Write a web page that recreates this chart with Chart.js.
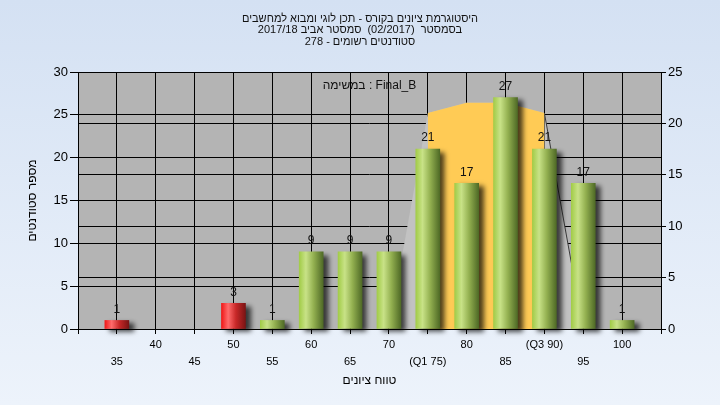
<!DOCTYPE html>
<html><head><meta charset="utf-8">
<script src="https://cdn.jsdelivr.net/npm/chart.js@4.4.1/dist/chart.umd.min.js"></script>
<style>html,body{margin:0;padding:0;background:#E2EBF7}#wrap{width:720px;height:405px}</style>
</head><body><div id="wrap"><canvas id="c" width="720" height="405"></canvas></div>
<script>
// ---- data ----
const titleLines = ['היסטוגרמת ציונים בקורס - תכן לוגי ומבוא למחשבים', 'בסמסטר  (02/2017)  סמסטר אביב 2017/18', 'סטודנטים רשומים - 278'];
const taskLabel = 'במשימה : Final_B';
const yTitle = 'מספר סטודנטים';
const xTitle = 'טווח ציונים';
const categories = [35, 40, 45, 50, 55, 60, 65, 70, 75, 80, 85, 90, 95, 100];
const xTickLabels = ['35', '40', '45', '50', '55', '60', '65', '70', '(Q1 75)', '80', '85', '(Q3 90)', '95', '100'];
const studentCounts = [1, 0, 0, 3, 1, 9, 9, 9, 21, 17, 27, 21, 17, 1];
const curveGrades = [70, 75, 80, 85, 90, 95];
const curveValues = [0, 21, 22, 22, 21, 0];
const iqrGrades = [75, 80, 85, 90];
const iqrValues = [21, 22, 22, 21];
const leftRange = { min: 0, max: 30, step: 5 };
const rightRange = { min: 0, max: 25, step: 5 };
const gradeRange = { min: 30, max: 105, step: 5 };
const passGrade = 55;

// ---- styling ----
const FONT = "'Liberation Sans', 'DejaVu Sans', Arial, sans-serif";
Chart.defaults.font.family = FONT;
Chart.defaults.color = '#000';

function barFill(c) {
  const fallback = '#9BC34A';
  if (c.type !== 'data' || !c.raw) return fallback;
  if (!c.raw.y) return 'transparent';
  const chart = c.chart;
  const sx = chart.scales && chart.scales.x;
  if (!sx) return fallback;
  const x = sx.getPixelForValue(c.raw.x);
  if (!isFinite(x)) return c.raw.x < passGrade ? '#D02020' : fallback;
  const g = chart.ctx.createLinearGradient(x - 12, 0, x + 12, 0);
  if (c.raw.x < passGrade) {
    g.addColorStop(0, '#F01818');
    g.addColorStop(0.28, '#FF6B6B');
    g.addColorStop(0.6, '#C82828');
    g.addColorStop(1, '#7A1414');
  } else {
    g.addColorStop(0, '#A2CC48');
    g.addColorStop(0.28, '#C8E287');
    g.addColorStop(0.6, '#93B050');
    g.addColorStop(1, '#4F6A26');
  }
  return g;
}

const bgPlugin = {
  id: 'bg',
  beforeDraw(chart) {
    const { ctx, width, height, chartArea: a } = chart;
    ctx.save();
    const g = ctx.createLinearGradient(0, 0, 0, height);
    g.addColorStop(0, '#D4E1F3');
    g.addColorStop(1, '#EDF3FB');
    ctx.fillStyle = g;
    ctx.fillRect(0, 0, width, height);
    ctx.fillStyle = '#B4B4B4';
    ctx.fillRect(a.left, a.top, a.right - a.left, a.bottom - a.top);
    ctx.restore();
  }
};

const shadowPlugin = {
  id: 'barShadow',
  beforeDatasetDraw(chart, args) {
    if (args.meta.type !== 'bar') return;
    const ctx = chart.ctx;
    ctx.save();
    ctx.shadowColor = 'rgba(0,0,0,0.7)';
    ctx.shadowBlur = 5;
    ctx.shadowOffsetX = 5;
    ctx.shadowOffsetY = 3;
  },
  afterDatasetDraw(chart, args) {
    if (args.meta.type !== 'bar') return;
    chart.ctx.restore();
  }
};

const labelPlugin = {
  id: 'labels',
  afterDatasetsDraw(chart) {
    const ctx = chart.ctx;
    const a = chart.chartArea;
    ctx.save();
    ctx.fillStyle = '#111';
    ctx.textAlign = 'center';
    ctx.textBaseline = 'middle';
    ctx.font = '12px ' + FONT;
    chart.getSortedVisibleDatasetMetas().forEach(meta => {
      if (meta.type !== 'bar') return;
      meta.data.forEach((el, i) => {
        const v = studentCounts[i];
        if (v > 0) ctx.fillText(String(v), el.x, el.y - 11);
      });
    });
    ctx.fillText(taskLabel, (a.left + a.right) / 2, a.top + 14);
    ctx.restore();
  }
};

new Chart(document.getElementById('c'), {
  data: {
    datasets: [
      {
        type: 'bar',
        data: categories.map((g, i) => ({ x: g, y: studentCounts[i] })),
        xAxisID: 'x', yAxisID: 'y',
        barThickness: 24,
        backgroundColor: barFill,
        borderWidth: 0,
        order: 0,
        clip: false
      },
      {
        type: 'line',
        data: iqrGrades.map((g, i) => ({ x: g, y: iqrValues[i] })),
        xAxisID: 'x', yAxisID: 'y2',
        fill: 'origin',
        backgroundColor: '#FFCB55',
        borderWidth: 0,
        borderColor: 'transparent',
        pointRadius: 0,
        tension: 0,
        order: 1
      },
      {
        type: 'line',
        data: curveGrades.map((g, i) => ({ x: g, y: curveValues[i] })),
        xAxisID: 'x', yAxisID: 'y2',
        fill: 'origin',
        backgroundColor: '#C2C2C2',
        borderWidth: 1,
        borderColor: 'transparent',
        segment: { borderColor: c => (c.p0.parsed.x === 90 ? '#3A3A3A' : 'transparent') },
        pointRadius: 0,
        tension: 0,
        order: 2
      }
    ]
  },
  options: {
    responsive: false,
    animation: false,
    events: [],
    layout: { padding: 0 },
    plugins: {
      legend: { display: false },
      tooltip: { enabled: false },
      title: {
        display: true,
        text: titleLines,
        color: '#111',
        font: { size: 11, weight: 'normal', lineHeight: 11.5 / 11 },
        padding: { top: 13, bottom: 24.5 }
      }
    },
    scales: {
      x: {
        type: 'linear',
        position: 'bottom',
        offset: false,
        min: gradeRange.min, max: gradeRange.max,
        ticks: {
          stepSize: gradeRange.step,
          autoSkip: false,
          maxRotation: 0,
          padding: 2.5,
          color: '#000',
          font: { size: 11, lineHeight: 17 / 11 },
          callback: v => {
            const i = categories.indexOf(Math.round(v));
            if (i < 0) return '';
            return i % 2 === 0 ? ['', xTickLabels[i]] : xTickLabels[i];
          }
        },
        grid: { color: '#000', lineWidth: 1, tickLength: 5, offset: false },
        border: { display: true, color: '#000' },
        title: { display: true, text: xTitle, font: { size: 12 }, padding: { top: 0, bottom: 16.8 } },
        afterFit: s => { s.height = 76; }
      },
      y: {
        position: 'left',
        min: leftRange.min, max: leftRange.max,
        ticks: { stepSize: leftRange.step, padding: 2, color: '#000', font: { size: 13 } },
        grid: { color: '#000', lineWidth: 1, tickLength: 8 },
        border: { display: true, color: '#000' },
        title: { display: true, text: yTitle, font: { size: 12 }, padding: { top: 25.8, bottom: 0 } },
        afterFit: s => { s.width = 78; }
      },
      y2: {
        position: 'right',
        min: rightRange.min, max: rightRange.max,
        ticks: { stepSize: rightRange.step, padding: 2, color: '#000', font: { size: 13 } },
        grid: { color: '#000', lineWidth: 1, tickLength: 5 },
        border: { display: true, color: '#000' },
        afterFit: s => { s.width = 59; }
      }
    }
  },
  plugins: [bgPlugin, shadowPlugin, labelPlugin]
});
</script>
</body></html>
